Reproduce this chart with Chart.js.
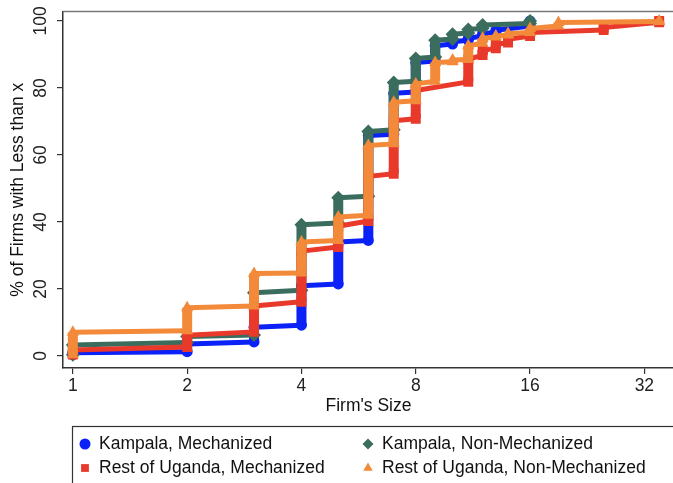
<!DOCTYPE html>
<html>
<head>
<meta charset="utf-8">
<script src="https://cdn.jsdelivr.net/npm/chart.js@4.4.0/dist/chart.umd.min.js"></script>
<style>
  html, body { margin: 0; padding: 0; background: #fff; overflow: hidden; }
  #cdf { display: block; }
</style>
</head>
<body>
<canvas id="cdf" width="681" height="483"></canvas>
<script>
// Axis ticks
const sizeTicks = [1, 2, 4, 8, 16, 32];
const pctTicks = [0, 20, 40, 60, 80, 100];

// Each series: firm sizes, and the cumulative % at the bottom / top of each step
// Kampala, Mechanized
const kmSizes = [1, 2, 3, 4, 5, 6, 7, 8, 9, 10, 11, 12, 13, 16];
const kmLow = [0.4, 1.3, 4.2, 9.2, 21.5, 34.5, 66.2, 78.8, 88.0, 93.1, 94.2, 95.5, 96.6, 98.5];
const kmHigh = [1.0, 3.6, 8.6, 21.0, 34.0, 65.8, 78.4, 87.6, 92.6, 93.8, 94.8, 96.2, 97.2, 100];

// Kampala, Non-Mechanized
const knmSizes = [1, 2, 3, 4, 5, 6, 7, 8, 9, 10, 11, 12, 16];
const knmLow = [0.4, 4.0, 6.3, 19.6, 39.7, 47.7, 67.5, 82.0, 89.2, 94.6, 96.4, 97.8, 99.2];
const knmHigh = [3.3, 5.8, 18.9, 39.2, 47.2, 67.0, 81.6, 88.8, 94.2, 96.0, 97.4, 98.8, 100];

// Rest of Uganda, Mechanized
const rmSizes = [1, 2, 3, 4, 5, 6, 7, 8, 11, 12, 13, 14, 16, 25, 35];
const rmLow = [0.4, 2.7, 7.2, 16.2, 32.5, 40.3, 54.4, 70.8, 81.8, 89.8, 91.8, 93.5, 95.5, 97.3, 99.6];
const rmHigh = [1.8, 6.2, 14.9, 31.3, 38.7, 53.6, 70.2, 79.2, 88.5, 91.2, 93.0, 94.5, 96.5, 98.0, 100];

// Rest of Uganda, Non-Mechanized
const rnmSizes = [1, 2, 3, 4, 5, 6, 7, 8, 9, 10, 11, 12, 13, 14, 16, 19, 35];
const rnmLow = [0.4, 7.5, 14.9, 24.8, 34.5, 42.0, 63.3, 76.2, 82.0, 87.8, 88.5, 93.3, 95.2, 95.8, 96.5, 98.5, 99.8];
const rnmHigh = [7.1, 14.4, 24.6, 34.0, 41.5, 62.8, 75.7, 81.2, 87.6, 88.3, 92.6, 94.8, 95.5, 96.2, 97.7, 99.5, 100];

const FONT = 'Liberation Sans, Arial, Helvetica, sans-serif';

// Build step points: bottom then top of each size
function steps(sizes, low, high) {
    const pts = [];
    sizes.forEach((s, i) => {
        pts.push({ x: s, y: low[i] });
        pts.push({ x: s, y: high[i] });
    });
    return pts;
}

// One dataset per group, vertical runs drawn wide like stacked markers
function makeSeries(label, color, style, radius, order, sizes, low, high) {
    return {
        label: label,
        data: steps(sizes, low, high),
        borderColor: color,
        backgroundColor: color,
        pointBackgroundColor: color,
        pointBorderWidth: 0,
        pointStyle: style,
        pointRadius: radius,
        borderCapStyle: 'butt',
        borderJoinStyle: 'round',
        order: order,
        segment: {
            borderWidth: ctx => ctx.p0.parsed.x === ctx.p1.parsed.x ? 10 : 5
        }
    };
}

// Frame on top and right of the plot
const framePlugin = {
    id: 'frame',
    afterDraw(chart) {
        const { ctx, chartArea } = chart;
        ctx.save();
        ctx.strokeStyle = '#777';
        ctx.lineWidth = 1.5;
        ctx.beginPath();
        ctx.moveTo(chartArea.left, chartArea.top);
        ctx.lineTo(chartArea.right, chartArea.top);
        ctx.lineTo(chartArea.right, chartArea.bottom);
        ctx.stroke();
        ctx.restore();
    }
};

// Boxed legend in two columns
const legendPlugin = {
    id: 'boxLegend',
    afterDraw(chart) {
        const ctx = chart.ctx;
        ctx.save();
        ctx.strokeStyle = '#333';
        ctx.lineWidth = 1.2;
        ctx.strokeRect(72.5, 426.5, 640, 90);
        ctx.font = '17.5px ' + FONT;
        ctx.textBaseline = 'middle';
        ctx.textAlign = 'left';
        chart.data.datasets.forEach((ds, i) => {
            const col = i % 2;
            const row = Math.floor(i / 2);
            const mx = col ? 368 : 85;
            const my = row ? 468 : 444;
            ctx.fillStyle = ds.borderColor;
            Chart.helpers.drawPoint(ctx, { pointStyle: ds.pointStyle, radius: 5.5, borderWidth: 0, rotation: 0 }, mx, my);
            ctx.fillStyle = '#111';
            ctx.fillText(ds.label, mx + 14, my);
        });
        ctx.restore();
    }
};

function createChart() {
    const ctx = document.getElementById('cdf').getContext('2d');
    new Chart(ctx, {
        type: 'line',
        data: {
            datasets: [
                makeSeries('Kampala, Mechanized', '#0a22f8', 'circle', 5.5, 4, kmSizes, kmLow, kmHigh),
                makeSeries('Kampala, Non-Mechanized', '#3b6d5f', 'rectRot', 7, 3, knmSizes, knmLow, knmHigh),
                makeSeries('Rest of Uganda, Mechanized', '#e8392b', 'rect', 7, 2, rmSizes, rmLow, rmHigh),
                makeSeries('Rest of Uganda, Non-Mechanized', '#f28a3a', 'triangle', 7, 1, rnmSizes, rnmLow, rnmHigh)
            ]
        },
        options: {
            responsive: false,
            animation: false,
            parsing: false,
            layout: { padding: { top: 11, left: 0, right: 0, bottom: 65 } },
            plugins: {
                legend: { display: false },
                tooltip: { enabled: false }
            },
            scales: {
                x: {
                    type: 'logarithmic',
                    min: 0.942,
                    max: 38.3,
                    afterBuildTicks: scale => { scale.ticks = sizeTicks.map(v => ({ value: v })); },
                    afterFit: scale => { scale.height = 50; },
                    ticks: {
                        callback: v => String(v),
                        color: '#222',
                        font: { family: FONT, size: 17.5 },
                        padding: 2,
                        maxRotation: 0,
                        autoSkip: false
                    },
                    grid: { drawOnChartArea: false, drawTicks: true, tickLength: 6, color: '#333', lineWidth: 1.2 },
                    border: { color: '#333', width: 1.5 },
                    title: {
                        display: true,
                        text: "Firm's Size",
                        color: '#111',
                        font: { family: FONT, size: 17.5 },
                        padding: { top: 0, bottom: 1.5 }
                    }
                },
                y: {
                    type: 'linear',
                    min: -3.58,
                    max: 102.8,
                    afterBuildTicks: scale => { scale.ticks = pctTicks.map(v => ({ value: v })); },
                    afterFit: scale => { scale.width = 63; },
                    ticks: {
                        color: '#222',
                        font: { family: FONT, size: 17.5 },
                        minRotation: 90,
                        maxRotation: 90,
                        crossAlign: 'center',
                        padding: 1
                    },
                    grid: { drawOnChartArea: false, drawTicks: true, tickLength: 6, color: '#333', lineWidth: 1.2 },
                    border: { color: '#333', width: 1.5 },
                    title: {
                        display: true,
                        text: '% of Firms with Less than x',
                        color: '#111',
                        font: { family: FONT, size: 17.5 },
                        padding: { top: 7.5, bottom: 0 }
                    }
                }
            }
        },
        plugins: [framePlugin, legendPlugin]
    });
}

createChart();
</script>
</body>
</html>
